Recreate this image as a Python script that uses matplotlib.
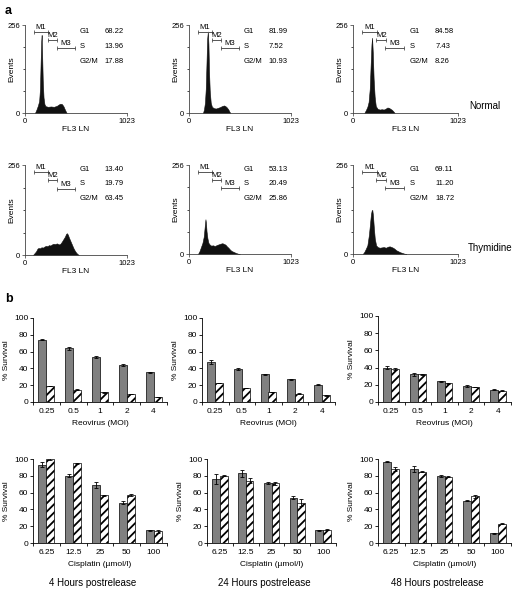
"""Cell-cycle histograms (a) and survival bar charts (b), redrawn."""
import matplotlib

matplotlib.use("Agg")
import matplotlib.pyplot as plt

W, H = 513, 589

# ---- panel a: flow histograms (channel, events) ----
norm4_chan = [100, 115, 130, 142, 150, 157, 163, 167, 172, 178, 186, 195, 205, 230, 260, 290, 320, 340, 355, 370, 385, 400, 410, 418]
norm4_count = [0, 10, 22, 35, 70, 150, 210, 227, 170, 95, 45, 26, 20, 18, 19, 18, 21, 25, 27, 26, 20, 10, 4, 0]
norm24_chan = [140, 150, 160, 168, 175, 182, 189, 195, 201, 208, 218, 230, 250, 270, 290, 310, 330, 350, 365, 380, 395, 405, 415]
norm24_count = [0, 10, 30, 70, 140, 215, 237, 200, 120, 65, 30, 18, 14, 13, 15, 17, 20, 22, 20, 16, 10, 4, 0]
norm48_chan = [110, 125, 140, 152, 163, 172, 180, 186, 193, 201, 211, 222, 240, 260, 280, 300, 320, 335, 350, 365, 380, 395, 406]
norm48_count = [0, 8, 18, 32, 70, 140, 200, 219, 175, 100, 48, 20, 12, 10, 11, 10, 13, 16, 15, 12, 9, 4, 0]
thy4_chan = [80, 95, 110, 125, 135, 150, 165, 180, 195, 210, 225, 240, 255, 270, 285, 300, 320, 340, 355, 370, 385,
             400, 412, 420, 430, 440, 455, 470, 485, 500, 515, 530, 540]
thy4_count = [0, 5, 10, 18, 20, 19, 22, 21, 24, 26, 25, 28, 27, 30, 32, 31, 33, 30, 32, 38, 45,
              52, 60, 62, 58, 50, 40, 30, 20, 12, 6, 2, 0]
thy24_chan = [90, 105, 120, 135, 148, 158, 165, 170, 176, 185, 195, 208, 222, 240, 260, 280, 300, 320, 335, 350,
              365, 380, 395, 410, 425, 440, 455, 470, 490, 510]
thy24_count = [0, 8, 20, 32, 50, 80, 100, 90, 65, 45, 32, 27, 24, 25, 23, 26, 28, 30, 31, 29,
               27, 22, 18, 13, 9, 7, 5, 3, 1, 0]
thy48_chan = [95, 110, 125, 140, 155, 165, 175, 182, 188, 195, 202, 212, 225, 240, 260, 280, 300, 320, 340, 357,
              375, 390, 405, 420, 440, 460, 480, 500, 520]
thy48_count = [0, 6, 15, 25, 55, 85, 115, 125, 127, 110, 80, 45, 25, 20, 18, 19, 20, 18, 21, 22,
               20, 18, 15, 11, 8, 5, 3, 1, 0]

gate_names = ["M1", "M2", "M3"]
gate_ranges = [(90, 230), (228, 322), (316, 498)]
gate_heights = [236, 213, 189]

phase_names = ["G1", "S", "G2/M"]
norm4_pct = ["68.22", "13.96", "17.88"]
norm24_pct = ["81.99", "7.52", "10.93"]
norm48_pct = ["84.58", "7.43", "8.26"]
thy4_pct = ["13.40", "19.79", "63.45"]
thy24_pct = ["53.13", "20.49", "25.86"]
thy48_pct = ["69.11", "11.20", "18.72"]

# ---- panel b: survival bars ----
reo_labels = ["0.25", "0.5", "1", "2", "4"]
cis_labels = ["6.25", "12.5", "25", "50", "100"]

reo4_gray = [74, 64, 53.5, 44, 35.5]
reo4_gray_err = [0.7, 2, 1.5, 1, 0.5]
reo4_hatch = [19, 14.5, 11.5, 9.5, 6]
reo4_hatch_err = [0.5, 0.5, 0.5, 0.3, 0.3]
reo24_gray = [47.5, 39.5, 33, 27, 20.5]
reo24_gray_err = [2, 1.5, 0.5, 0.7, 0.5]
reo24_hatch = [22.5, 16.5, 12, 10, 8]
reo24_hatch_err = [0.3, 0.3, 0.3, 0.3, 0.3]
reo48_gray = [40, 32, 24, 18.5, 14.5]
reo48_gray_err = [1.5, 1.5, 0.5, 1.5, 0.5]
reo48_hatch = [38.5, 32, 22, 17.5, 13]
reo48_hatch_err = [1, 0.5, 0.5, 0.5, 0.5]

cis4_gray = [93, 80, 69, 48, 15]
cis4_gray_err = [3, 2, 4, 1.5, 0.3]
cis4_hatch = [100, 95, 57, 57, 14]
cis4_hatch_err = [1, 0.5, 0.5, 1.5, 2]
cis24_gray = [76, 83, 71.5, 54, 15]
cis24_gray_err = [6, 4.5, 1, 1.5, 0.5]
cis24_hatch = [80, 74, 71, 48, 16]
cis24_hatch_err = [0.5, 3, 1.5, 4, 0.5]
cis48_gray = [97, 88, 80, 50.5, 11.5]
cis48_gray_err = [0.5, 4, 1, 1, 0.7]
cis48_hatch = [88, 85, 79, 55.5, 23]
cis48_hatch_err = [2, 0.7, 0.7, 2, 0.7]

plt.rcParams.update({"font.family": ["Liberation Sans", "DejaVu Sans"], "font.size": 6,
                     "hatch.linewidth": 1.3, "axes.linewidth": 0.6})

fig = plt.figure(figsize=(W / 100, H / 100), dpi=100)


def box(x0, y0, x1, y1):
    # pixel box (top-left origin) -> figure fraction rect
    return [x0 / W, 1 - y1 / H, (x1 - x0) / W, (y1 - y0) / H]


def histo(rect, chan, count, pct, text_y):
    ax = fig.add_axes(rect)
    ax.fill_between(chan, count, color="#111111", lw=0.4)
    ax.set_xlim(0, 1023)
    ax.set_ylim(0, 256)
    for s in ("top", "right"):
        ax.spines[s].set_visible(False)
    for s in ("left", "bottom"):
        ax.spines[s].set_color("#444444")
    ax.set_xticks([0, 1023])
    ax.set_yticks([0, 256])
    ax.set_yticks([64, 128, 192], minor=True)
    ax.tick_params(labelsize=5.5, length=2, width=0.5, pad=1.5, colors="#333333", labelcolor="black")
    ax.tick_params(which="minor", length=1.5, width=0.5)
    ax.set_xlabel("FL3 LN", fontsize=6, labelpad=1)
    ax.set_ylabel("Events", fontsize=6)
    ax.yaxis.set_label_coords(-0.09, 0.5)
    for name, (g0, g1), gy in zip(gate_names, gate_ranges, gate_heights):
        ax.plot([g0, g1], [gy, gy], color="#555555", lw=0.7, marker="|", ms=2.5, mew=0.6, clip_on=False)
        ax.text((g0 + g1) / 2, gy + 3, name, ha="center", va="bottom", fontsize=5.5)
    for name, val, ty in zip(phase_names, pct, text_y):
        ax.text(550, ty, name, va="center", fontsize=5.5)
        ax.text(800, ty, val, va="center", fontsize=5.5)
    return ax


row1_y = [236, 192, 150]
row2_y = [244, 203, 161]
histo(box(25, 25, 127, 113), norm4_chan, norm4_count, norm4_pct, row1_y)
histo(box(189, 25, 291, 113), norm24_chan, norm24_count, norm24_pct, row1_y)
histo(box(353, 25, 458, 113), norm48_chan, norm48_count, norm48_pct, row1_y)
histo(box(25, 165, 127, 255), thy4_chan, thy4_count, thy4_pct, row2_y)
histo(box(189, 165, 291, 254), thy24_chan, thy24_count, thy24_pct, row2_y)
histo(box(353, 165, 458, 254), thy48_chan, thy48_count, thy48_pct, row2_y)

fig.text(469 / W, 1 - 106 / H, "Normal", fontsize=7, va="center")
fig.text(468 / W, 1 - 248 / H, "Thymidine", fontsize=7, va="center")


def bars(rect, labels, gray, gray_err, hatch, hatch_err, xlabel):
    ax = fig.add_axes(rect)
    x = range(len(labels))
    bw = 0.3
    ek = dict(elinewidth=0.6, capsize=1.3, capthick=0.6, ecolor="black")
    ax.bar([i - bw / 2 for i in x], gray, bw, yerr=gray_err, color="#808080", edgecolor="black",
           lw=0.5, error_kw=ek)
    ax.bar([i + bw / 2 for i in x], hatch, bw, yerr=hatch_err, color="white", edgecolor="black",
           hatch="////", lw=0.5, error_kw=ek)
    ax.set_xlim(-0.5, len(labels) - 0.5)
    ax.set_ylim(0, 100)
    ax.set_yticks(range(0, 101, 20))
    ax.set_xticks(list(x))
    ax.set_xticklabels(labels)
    ax.set_xticks([i - 0.5 for i in range(len(labels) + 1)], minor=True)
    ax.tick_params(axis="x", which="major", length=0, pad=4)
    ax.tick_params(axis="x", which="minor", length=2.5, width=0.6)
    ax.tick_params(axis="y", length=2, width=0.6, pad=1.5)
    ax.tick_params(labelsize=6)
    for s in ("top", "right"):
        ax.spines[s].set_visible(False)
    ax.set_ylabel("% Survival", fontsize=6, labelpad=3)
    ax.set_xlabel(xlabel, fontsize=6, labelpad=4)
    return ax


reo_x = "Reovirus (MOI)"
cis_x = "Cisplatin (µmol/l)"
bars(box(33, 318, 167, 402), reo_labels, reo4_gray, reo4_gray_err, reo4_hatch, reo4_hatch_err, reo_x)
bars(box(202, 318, 335, 402), reo_labels, reo24_gray, reo24_gray_err, reo24_hatch, reo24_hatch_err, reo_x)
bars(box(378, 316, 511, 402), reo_labels, reo48_gray, reo48_gray_err, reo48_hatch, reo48_hatch_err, reo_x)
bars(box(33, 459, 167, 543), cis_labels, cis4_gray, cis4_gray_err, cis4_hatch, cis4_hatch_err, cis_x)
bars(box(207, 459, 336, 543), cis_labels, cis24_gray, cis24_gray_err, cis24_hatch, cis24_hatch_err, cis_x)
bars(box(378, 459, 511, 543), cis_labels, cis48_gray, cis48_gray_err, cis48_hatch, cis48_hatch_err, cis_x)

for cx, txt in ((93, "4 Hours postrelease"), (264, "24 Hours postrelease"), (437, "48 Hours postrelease")):
    fig.text(cx / W, 1 - 583 / H, txt, fontsize=7, ha="center", va="center")

fig.text(5 / W, 1 - 11 / H, "a", fontsize=9, fontweight="bold", va="center")
fig.text(5 / W, 1 - 299 / H, "b", fontsize=9, fontweight="bold", va="center")

fig.savefig("out.png", dpi=100)
